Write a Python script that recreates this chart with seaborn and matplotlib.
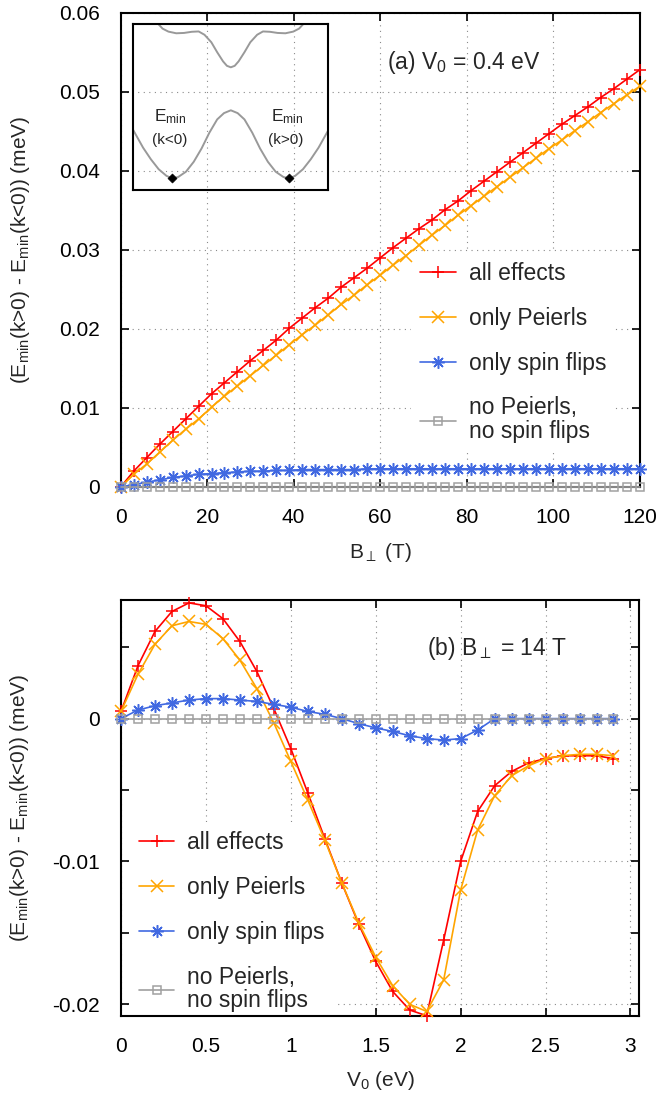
import matplotlib
matplotlib.use("Agg")
import matplotlib.pyplot as plt
from matplotlib.ticker import FixedLocator
import seaborn as sns

# ---- panel (a): energy difference vs perpendicular field, V0 = 0.4 eV ----
B_FIELD = [0, 3, 6, 9, 12, 15, 18, 21, 24, 27, 30, 33, 36, 39, 42, 45, 48, 51, 54, 57,
           60, 63, 66, 69, 72, 75, 78, 81, 84, 87, 90, 93, 96, 99, 102, 105, 108, 111,
           114, 117, 120]
ALL_A = [0.0, 0.0020, 0.0037, 0.0054, 0.0070, 0.0086, 0.0102, 0.0118, 0.0132, 0.0146,
         0.0160, 0.0173, 0.0186, 0.0201, 0.0214, 0.0227, 0.0239, 0.0253, 0.0265, 0.0277,
         0.0290, 0.0303, 0.0315, 0.0327, 0.0338, 0.0351, 0.0362, 0.0375, 0.0387, 0.0399,
         0.0411, 0.0423, 0.0435, 0.0447, 0.0459, 0.0470, 0.0481, 0.0493, 0.0504, 0.0516,
         0.0528]
PEIERLS_A = [0.0, 0.0016, 0.0029, 0.0044, 0.0059, 0.0073, 0.0086, 0.0101, 0.0115, 0.0128,
             0.0141, 0.0154, 0.0167, 0.0180, 0.0193, 0.0205, 0.0218, 0.0231, 0.0243, 0.0256,
             0.0268, 0.0281, 0.0293, 0.0306, 0.0319, 0.0331, 0.0344, 0.0356, 0.0368, 0.0380,
             0.0392, 0.0404, 0.0416, 0.0428, 0.0439, 0.0451, 0.0462, 0.0474, 0.0485, 0.0496,
             0.0507]
SPIN_A = [0.0, 0.0003, 0.0006, 0.0009, 0.0012, 0.0014, 0.0016, 0.0017, 0.0018, 0.0019,
          0.0020, 0.0020, 0.0021, 0.0021, 0.0022, 0.0022, 0.0022, 0.0022, 0.0022, 0.0023,
          0.0023, 0.0023, 0.0023, 0.0023, 0.0023, 0.0023, 0.0023, 0.0023, 0.0023, 0.0023,
          0.0023, 0.0023, 0.0023, 0.0023, 0.0023, 0.0023, 0.0023, 0.0023, 0.0023, 0.0023,
          0.0023]
NONE_A = [0.0] * 41

# ---- panel (b): energy difference vs V0, B = 14 T ----
V0 = [0.0, 0.1, 0.2, 0.3, 0.4, 0.5, 0.6, 0.7, 0.8, 0.9, 1.0, 1.1, 1.2, 1.3, 1.4,
      1.5, 1.6, 1.7, 1.8, 1.9, 2.0, 2.1, 2.2, 2.3, 2.4, 2.5, 2.6, 2.7, 2.8, 2.9]
ALL_B = [0.0005, 0.0037, 0.0061, 0.0075, 0.0081, 0.0079, 0.0070, 0.0054, 0.0033, 0.0007,
         -0.0021, -0.0052, -0.0084, -0.0115, -0.0144, -0.0170, -0.0191, -0.0204, -0.0208,
         -0.0155, -0.0100, -0.0065, -0.0047, -0.0037, -0.0031, -0.0028, -0.0026, -0.0026,
         -0.0026, -0.0028]
PEIERLS_B = [0.0005, 0.0031, 0.0052, 0.0065, 0.0068, 0.0066, 0.0056, 0.0041, 0.0021, -0.0003,
             -0.0030, -0.0057, -0.0085, -0.0115, -0.0143, -0.0167, -0.0187, -0.0200, -0.0205,
             -0.0183, -0.0120, -0.0078, -0.0054, -0.0040, -0.0033, -0.0028, -0.0026, -0.0025,
             -0.0025, -0.0026]
SPIN_B = [0.0, 0.0006, 0.0009, 0.0011, 0.0013, 0.0014, 0.0014, 0.0013, 0.0012, 0.0010,
          0.0008, 0.0005, 0.0003, 0.0, -0.00035, -0.00065, -0.0009, -0.0012, -0.0014,
          -0.0015, -0.0014, -0.0008, 0.0, 0.0, 0.0, 0.0, 0.0, 0.0, 0.0, 0.0]
NONE_B = [0.0] * 30

LABELS = ["all effects", "only Peierls", "only spin flips", "no Peierls,\nno spin flips"]
COLORS = ["#ff0000", "#ffa500", "#4169e1", "#a0a0a0"]

XTICKS_A = [0, 20, 40, 60, 80, 100, 120]
XTICKLABELS_A = ["0", "20", "40", "60", "80", "100", "120"]
YTICKS_A = [0, 0.01, 0.02, 0.03, 0.04, 0.05, 0.06]
YTICKLABELS_A = ["0", "0.01", "0.02", "0.03", "0.04", "0.05", "0.06"]
XTICKS_B = [0, 0.5, 1, 1.5, 2, 2.5, 3]
XTICKLABELS_B = ["0", "0.5", "1", "1.5", "2", "2.5", "3"]
YTICKS_B = [-0.02, -0.01, 0]
YTICKLABELS_B = ["-0.02", "-0.01", "0"]
YMINOR_B = [-0.015, -0.005, 0.005]

# ---- inset: schematic band structure ----
K_LOWER = [-1.0, -0.9, -0.82, -0.74, -0.66, -0.6, -0.54, -0.46, -0.38, -0.3, -0.22, -0.14,
           -0.07, 0.0, 0.07, 0.14, 0.22, 0.3, 0.38, 0.46, 0.54, 0.6, 0.66, 0.74, 0.82,
           0.9, 1.0]
E_LOWER = [0.36, 0.255, 0.185, 0.125, 0.085, 0.07, 0.078, 0.11, 0.17, 0.25, 0.345, 0.425,
           0.463, 0.48, 0.463, 0.425, 0.345, 0.25, 0.17, 0.11, 0.078, 0.07, 0.085, 0.125,
           0.185, 0.255, 0.36]
K_UPPER = [-0.76, -0.7, -0.64, -0.56, -0.48, -0.4, -0.33, -0.27, -0.2, -0.14, -0.08, -0.04,
           0.0, 0.04, 0.08, 0.14, 0.2, 0.27, 0.33, 0.4, 0.48, 0.56, 0.64, 0.7, 0.76]
E_UPPER = [1.01, 0.972, 0.954, 0.944, 0.946, 0.953, 0.955, 0.935, 0.89, 0.83, 0.775, 0.748,
           0.739, 0.748, 0.775, 0.83, 0.89, 0.935, 0.955, 0.953, 0.946, 0.944, 0.954, 0.972,
           1.01]
K_MIN = [-0.6, 0.6]
E_MIN = [0.07, 0.07]

sns.set_style("ticks")
plt.rcParams["font.family"] = ["Liberation Sans", "DejaVu Sans"]
plt.rcParams["axes.unicode_minus"] = False
plt.rcParams["mathtext.fontset"] = "custom"
plt.rcParams["mathtext.rm"] = "Liberation Sans"
plt.rcParams["mathtext.it"] = "Liberation Sans:italic"
plt.rcParams["mathtext.sf"] = "Liberation Sans"

FS = 15      # tick and axis labels
FS_TXT = 16.5  # legend and panel annotations
MARKERS = ["+", "x", (8, 2, 0), "s"]
SIZES = [9, 8, 9, 6]

fig = plt.figure(figsize=(6.59, 11.0), dpi=100)
ax_a = fig.add_axes([0.1832, 0.5573, 0.7873, 0.4309])
ax_b = fig.add_axes([0.1836, 0.0766, 0.786, 0.3779])


def draw_series(ax, x, series):
    for y, label, color, marker, ms in zip(series, LABELS, COLORS, MARKERS, SIZES):
        face = "none" if marker == "s" else color
        sns.lineplot(x=x, y=y, ax=ax, color=color, marker=marker, markersize=ms,
                     markeredgecolor=color, markerfacecolor=face, markeredgewidth=1.1,
                     linewidth=1.2, label=label, errorbar=None, legend=False,
                     clip_on=False, zorder=3)


def style_axes(ax):
    ax.set_axisbelow(True)
    ax.grid(True, which="major", color="#8a8a8a", linestyle=(0, (1, 4)), linewidth=0.8)
    for sp in ax.spines.values():
        sp.set_linewidth(1.5)
        sp.set_color("black")
    ax.tick_params(which="both", direction="in", top=True, right=True, length=6,
                   width=1.2, labelsize=FS, colors="black")
    ax.tick_params(axis="y", pad=15)
    ax.tick_params(axis="x", pad=15)


def add_legend(ax, anchor):
    leg = ax.legend(loc="upper left", bbox_to_anchor=anchor, fontsize=FS_TXT, frameon=True,
                    handlelength=1.55, handletextpad=0.55, labelspacing=0.95,
                    borderpad=0.4, borderaxespad=0, fancybox=False)
    leg.get_texts()[-1].set_linespacing(1.05)
    leg.get_frame().set_facecolor("white")
    leg.get_frame().set_edgecolor("none")
    leg.get_frame().set_alpha(1)
    leg.set_zorder(2)


# panel (a)
draw_series(ax_a, B_FIELD, [ALL_A, PEIERLS_A, SPIN_A, NONE_A])
style_axes(ax_a)
ax_a.set_xlim(0, 120)
ax_a.set_ylim(0, 0.06)
ax_a.set_xticks(XTICKS_A, XTICKLABELS_A)
ax_a.set_yticks(YTICKS_A, YTICKLABELS_A)
ax_a.set_xlabel(r"B$_\perp$ (T)", fontsize=FS)
ax_a.set_ylabel(r"(E$_{\rm min}$(k>0) - E$_{\rm min}$(k<0)) (meV)", fontsize=FS)
ax_a.xaxis.set_label_coords(0.5, -0.139)
ax_a.xaxis.label.set_va("center")
ax_a.yaxis.set_label_coords(-0.194, 0.5)
ax_a.yaxis.label.set_va("center")
ax_a.text(61.5, 0.0537, r"(a) V$_0$ = 0.4 eV", fontsize=FS_TXT, va="center", ha="left")
add_legend(ax_a, (0.56, 0.494))

# panel (b)
draw_series(ax_b, V0, [ALL_B, PEIERLS_B, SPIN_B, NONE_B])
style_axes(ax_b)
ax_b.set_xlim(0, 3.05)
ax_b.set_ylim(-0.0208, 0.0083)
ax_b.set_xticks(XTICKS_B, XTICKLABELS_B)
ax_b.set_yticks(YTICKS_B, YTICKLABELS_B)
ax_b.yaxis.set_minor_locator(FixedLocator(YMINOR_B))
ax_b.set_xlabel(r"V$_0$ (eV)", fontsize=FS)
ax_b.set_ylabel(r"(E$_{\rm min}$(k>0) - E$_{\rm min}$(k<0)) (meV)", fontsize=FS)
ax_b.xaxis.set_label_coords(0.5, -0.155)
ax_b.xaxis.label.set_va("center")
ax_b.yaxis.set_label_coords(-0.195, 0.5)
ax_b.yaxis.label.set_va("center")
ax_b.text(1.8, 0.0049, r"(b) B$_\perp$ = 14 T", fontsize=FS_TXT, va="center", ha="left")
add_legend(ax_b, (0.017, 0.466))

# inset band sketch
ax_in = fig.add_axes([0.2023, 0.8273, 0.2959, 0.1509])
ax_in.patch.set_alpha(0)
sns.lineplot(x=K_LOWER, y=E_LOWER, ax=ax_in, color="#999999", linewidth=1.4,
             errorbar=None, legend=False)
sns.lineplot(x=K_UPPER, y=E_UPPER, ax=ax_in, color="#999999", linewidth=1.4,
             errorbar=None, legend=False)
sns.scatterplot(x=K_MIN, y=E_MIN, ax=ax_in, marker="D", color="black", s=22,
                edgecolor="black", legend=False, zorder=4)
ax_in.set_xlim(-1, 1)
ax_in.set_ylim(0, 1)
ax_in.set_xticks([])
ax_in.set_yticks([])
ax_in.set_xlabel("")
ax_in.set_ylabel("")
for sp in ax_in.spines.values():
    sp.set_linewidth(1.5)
    sp.set_color("black")
ax_in.text(-0.62, 0.44, r"E$_{\rm min}$", fontsize=12.5, ha="center", va="center")
ax_in.text(-0.63, 0.30, "(k<0)", fontsize=11, ha="center", va="center")
ax_in.text(0.58, 0.44, r"E$_{\rm min}$", fontsize=12.5, ha="center", va="center")
ax_in.text(0.56, 0.30, "(k>0)", fontsize=11, ha="center", va="center")

fig.savefig("out.png", dpi=100, facecolor="white")
